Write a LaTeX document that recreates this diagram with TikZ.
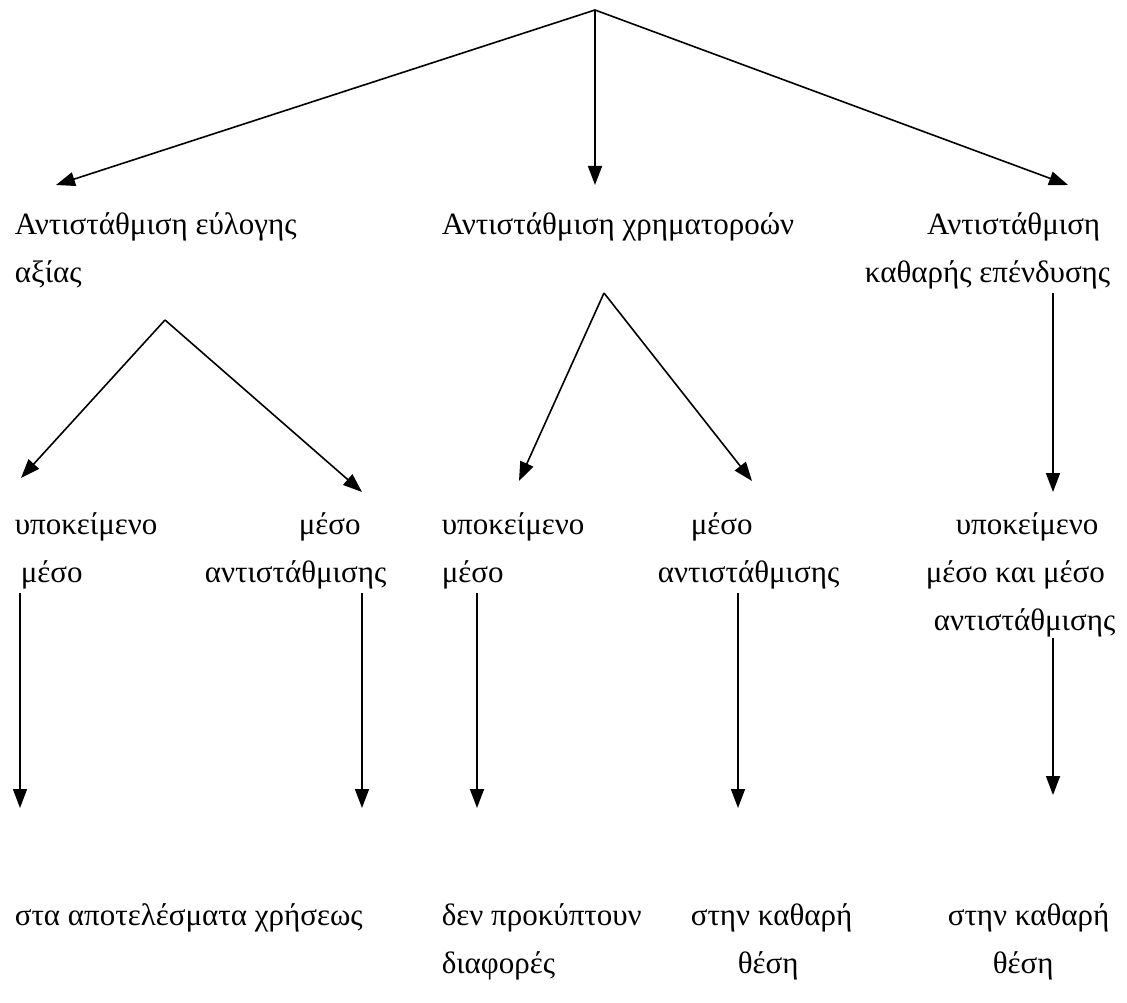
\documentclass[tikz,border=0pt]{standalone}
\usepackage{fontspec}
\setmainfont{Liberation Serif}
\usetikzlibrary{arrows.meta}
\begin{document}
\begin{tikzpicture}[x=1pt, y=-1pt, line width=1.6pt, -{Triangle[length=19pt,width=14pt]},
  lbl/.style={inner sep=0pt, anchor=base west, align=left, font={\fontsize{31pt}{48pt}\selectfont}}]
         \useasboundingbox (0,0) rectangle (1127,1003);
         %nodes (base = baseline of the last line)
         \node[lbl] at (14,282) (fairval) {Αντιστάθμιση εύλογης\\αξίας};
         \node[lbl] at (441,234) (cashflow) {Αντιστάθμιση χρηματοροών};
         \node[lbl, anchor=base east, align=right] at (1111,282) (netinv) {Αντιστάθμιση\hspace*{10pt}\\καθαρής επένδυσης};
         \node[lbl] at (14,582) (underA) {υποκείμενο\\\hspace*{6pt}μέσο};
         \node[lbl] at (204,582) (hedgeA) {\hspace*{94pt}μέσο\\αντιστάθμισης};
         \node[lbl] at (441,582) (underB) {υποκείμενο\\μέσο};
         \node[lbl] at (657,582) (hedgeB) {\hspace*{33pt}μέσο\\αντιστάθμισης};
         \node[lbl] at (925,630) (bothC) {\hspace*{30pt}υποκείμενο\\μέσο και μέσο\\\hspace*{8pt}αντιστάθμισης};
         \node[lbl] at (14,925) (results) {στα αποτελέσματα χρήσεως};
         \node[lbl] at (441,973) (nodiff) {δεν προκύπτουν\\διαφορές};
         \node[lbl] at (690,973) (equityB) {στην καθαρή\\\hspace*{47pt}θέση};
         \node[lbl] at (947,973) (equityC) {στην καθαρή\\\hspace*{45pt}θέση};
         % branch points and arrow ends
         \coordinate (apex) at (595,10);
         \coordinate (splitA) at (165,320);
         \coordinate (splitB) at (604,293);
         \coordinate (splitC) at (1053,293);
         \coordinate (toA) at (56,185); \coordinate (toB) at (595,185); \coordinate (toC) at (1068,185);
         \coordinate (toUA) at (21,478); \coordinate (toHA) at (362,492);
         \coordinate (toUB) at (519,481); \coordinate (toHB) at (752,481);
         \coordinate (toUH) at (1053,492);
         \coordinate (fromUA) at (20,593); \coordinate (endUA) at (20,808);
         \coordinate (fromHA) at (362,593); \coordinate (endHA) at (362,808);
         \coordinate (fromUB) at (477,593); \coordinate (endUB) at (477,808);
         \coordinate (fromHB) at (738,593); \coordinate (endHB) at (738,808);
         \coordinate (fromUH) at (1053,638); \coordinate (endUH) at (1053,795);
         % arrows between nodes
         \draw (apex) -- (toA); \draw (apex) -- (toB); \draw (apex) -- (toC);
         \draw (splitA) -- (toUA); \draw (splitA) -- (toHA);
         \draw (splitB) -- (toUB); \draw (splitB) -- (toHB);
         \draw (splitC) -- (toUH);
         \draw (fromUA) -- (endUA); \draw (fromHA) -- (endHA);
         \draw (fromUB) -- (endUB); \draw (fromHB) -- (endHB);
         \draw (fromUH) -- (endUH);
\end{tikzpicture}
\end{document}
